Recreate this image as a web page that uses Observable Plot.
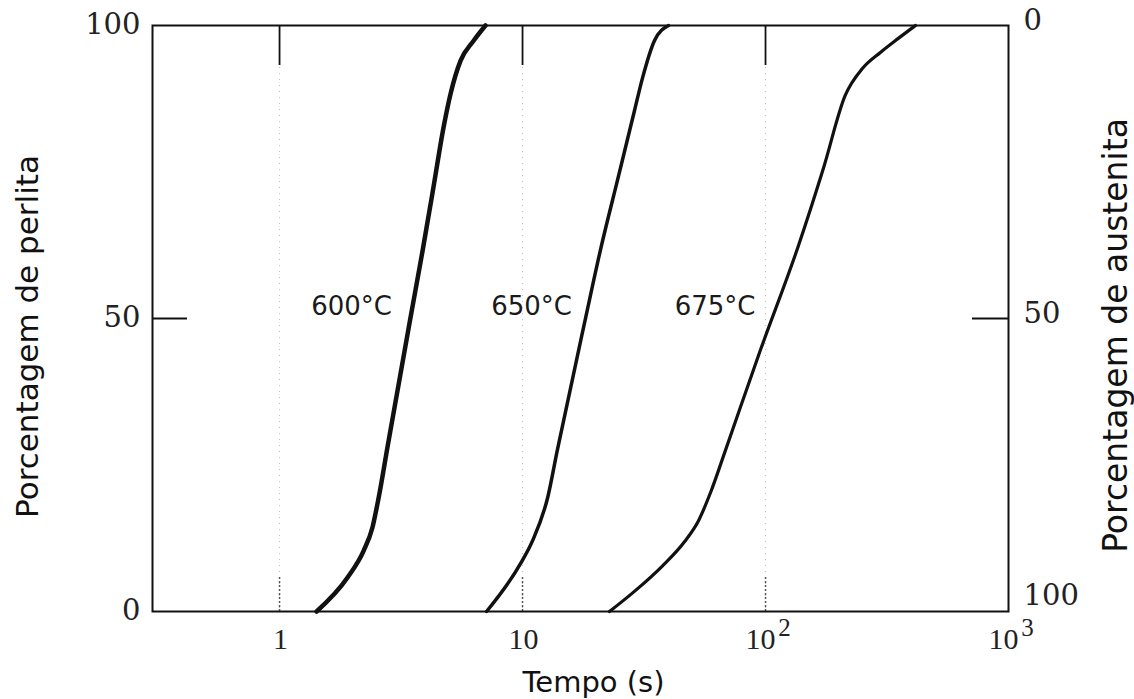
<!DOCTYPE html>
<html>
<head>
<meta charset="utf-8">
<script src="https://cdn.jsdelivr.net/npm/d3@7"></script>
<script src="https://cdn.jsdelivr.net/npm/@observablehq/plot@0.6"></script>
<style>
  html, body { margin: 0; padding: 0; background: #fff; }
  #chart svg { display: block; }
</style>
</head>
<body>
<div id="chart"></div>
<script>
// ---- data ----
const xTicks = [1, 10, 100, 1000];
const xTickBase = ["1", "10", "10", "10"];
const xTickExp = ["", "", "2", "3"];
const perlitaTicks = [0, 50, 100];
const austenitaTicks = [0, 50, 100];

const curveNames = ["600°C", "650°C", "675°C"];
const t600 = [1.42, 1.905, 2.22, 2.41, 2.56, 2.78, 3.46, 3.88, 4.30, 4.73, 5.06, 5.56, 6.29, 7.04];
const p600 = [0, 5.8, 10.4, 14.3, 19.5, 28.0, 50.2, 61.6, 72.4, 82.6, 88.4, 94.0, 97.4, 100];
const t650 = [7.11, 9.82, 11.0, 12.7, 13.9, 18.2, 20.9, 24.9, 28.9, 31.2, 34.9, 39.9];
const p650 = [0, 8.2, 12.1, 19.5, 27.5, 50.2, 61.6, 74.5, 85.5, 91.1, 97.4, 100];
const t675 = [22.8, 29.2, 37.7, 46.4, 53.0, 59.4, 68.4, 94.5, 136.8, 173, 213, 251, 297, 352, 414];
const p675 = [0, 3.6, 7.8, 11.9, 15.5, 20.3, 27.5, 44.2, 62.5, 75.6, 88.1, 92.7, 95.4, 97.8, 100];
const labelTimes = [1.98, 10.9, 62];
const labelPct = [52, 52, 52];

// ---- build table ----
const seriesT = [t600, t650, t675];
const seriesP = [p600, p650, p675];
const rows = [];
curveNames.forEach((name, k) => {
  seriesT[k].forEach((t, i) => rows.push({name, t, p: seriesP[k][i]}));
});
const labels = curveNames.map((name, i) => ({name, t: labelTimes[i], p: labelPct[i]}));
const widths = {"600°C": 4.5, "650°C": 3.5, "675°C": 3.2};

const W = 1134, H = 699;
const mL = 152, mR = 126, mT = 25, mB = 88;
const innerW = W - mL - mR, innerH = H - mT - mB;

const xPlain = xTicks.filter((d, i) => xTickExp[i] === "");
const xPow = xTicks.filter((d, i) => xTickExp[i] !== "");

const chart = Plot.plot({
  width: W, height: H,
  marginLeft: mL, marginRight: mR, marginTop: mT, marginBottom: mB,
  style: {background: "#fff", fontFamily: "DejaVu Sans", color: "#111"},
  x: {type: "log", domain: [0.3, 1000], axis: null},
  y: {domain: [0, 100], axis: null},
  marks: [
    // faint dotted guide lines
    Plot.ruleX(xTicks.slice(0, 3), {stroke: "#bbb", strokeDasharray: "1,5", strokeWidth: 1}),
    // bottom ticks (dotted)
    Plot.ruleX(xTicks.slice(0, 3), {stroke: "#555", strokeDasharray: "2,2", strokeWidth: 1.5, insetTop: innerH - 34}),
    // top ticks
    Plot.ruleX(xTicks.slice(0, 3), {stroke: "#111", strokeWidth: 1.8, insetBottom: innerH - 40}),
    // y 50 ticks
    Plot.ruleY([50], {stroke: "#111", strokeWidth: 1.8, insetRight: innerW - 35}),
    Plot.ruleY([50], {stroke: "#111", strokeWidth: 1.8, insetLeft: innerW - 36}),
    Plot.frame({stroke: "#111", strokeWidth: 2}),
    // curves
    ...curveNames.map(n => Plot.line(rows.filter(r => r.name === n), {
      x: "t", y: "p", curve: "monotone-x", stroke: "#111", strokeWidth: widths[n], strokeLinecap: "round"
    })),
    // curve labels
    Plot.text(labels, {x: "t", y: "p", text: "name", fontSize: 26, fill: "#1a1a1a", fontFamily: "DejaVu Sans"}),
    // x tick labels
    Plot.text(xPlain, {
      x: d => d, y: d => 0, text: d => xTickBase[xTicks.indexOf(d)],
      dy: 28, dx: 1, fontSize: 30, fontFamily: "Liberation Serif", fill: "#222"
    }),
    Plot.text(xPow, {
      x: d => d, y: d => 0, text: d => xTickBase[xTicks.indexOf(d)],
      dy: 28, dx: -5, fontSize: 30, fontFamily: "Liberation Serif", fill: "#222"
    }),
    Plot.text(xPow, {
      x: d => d, y: d => 0, text: d => xTickExp[xTicks.indexOf(d)],
      dy: 16, dx: 19, fontSize: 25, fontFamily: "Liberation Serif", fill: "#222"
    }),
    // left y tick labels (perlita)
    Plot.text(perlitaTicks, {
      x: d => 0.3, y: d => d, text: d => String(d),
      dx: -12, dy: -1, textAnchor: "end", fontSize: 29, fontFamily: "DejaVu Serif", fill: "#222"
    }),
    // right y tick labels (austenita)
    Plot.text(austenitaTicks.filter(d => d < 100), {
      x: d => 1000, y: d => 100 - d, text: d => String(d),
      dx: 15, dy: -5, textAnchor: "start", fontSize: 29, fontFamily: "DejaVu Serif", fill: "#222"
    }),
    Plot.text(austenitaTicks.filter(d => d === 100), {
      x: d => 1000, y: d => 100 - d, text: d => String(d),
      dx: 15, dy: -16, textAnchor: "start", fontSize: 29, fontFamily: "DejaVu Serif", fill: "#222"
    }),
    // axis titles
    Plot.text(["Tempo (s)"], {frameAnchor: "bottom", textAnchor: "middle", lineAnchor: "middle", dx: 13, dy: 71, fontSize: 29, fontFamily: "DejaVu Sans", fill: "#111"}),
    Plot.text(["Porcentagem de perlita"], {frameAnchor: "left", textAnchor: "middle", lineAnchor: "middle", dx: -124, dy: 18, rotate: -90, fontSize: 31, fontFamily: "DejaVu Sans", fill: "#111"}),
    Plot.text(["Porcentagem de austenita"], {frameAnchor: "right", textAnchor: "middle", lineAnchor: "middle", dx: 108, dy: 17, rotate: -90, fontSize: 33, fontFamily: "DejaVu Sans", fill: "#111"})
  ]
});
document.getElementById("chart").appendChild(chart);
</script>
</body>
</html>
